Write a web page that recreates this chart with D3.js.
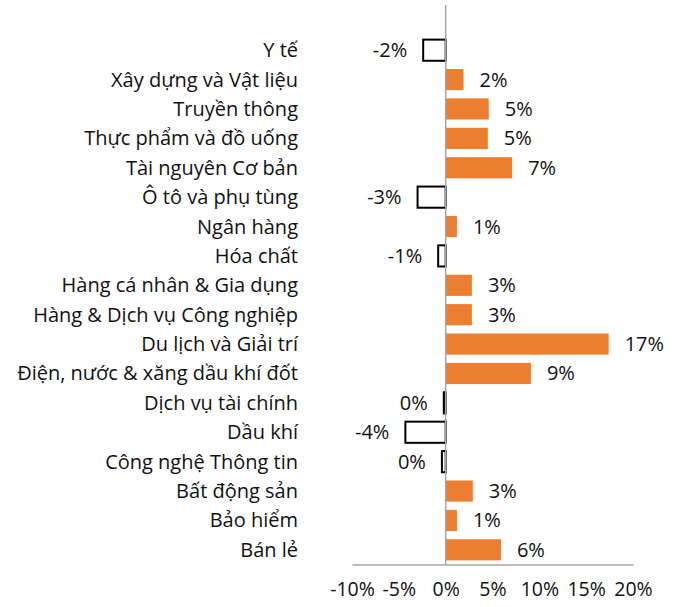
<!DOCTYPE html>
<html>
<head>
<meta charset="utf-8">
<script src="https://cdn.jsdelivr.net/npm/d3@7"></script>
<style>
  body { margin: 0; background: #fff; }
  text { font-family: "Open Sans", sans-serif; fill: #111; }
</style>
</head>
<body>
<script>
// sectors, top to bottom
var sectors = ["Y tế", "Xây dựng và Vật liệu", "Truyền thông", "Thực phẩm và đồ uống",
  "Tài nguyên Cơ bản", "Ô tô và phụ tùng", "Ngân hàng", "Hóa chất",
  "Hàng cá nhân & Gia dụng", "Hàng & Dịch vụ Công nghiệp", "Du lịch và Giải trí",
  "Điện, nước & xăng dầu khí đốt", "Dịch vụ tài chính", "Dầu khí",
  "Công nghệ Thông tin", "Bất động sản", "Bảo hiểm", "Bán lẻ"];
// change in %
var changes = [-2.4, 1.9, 4.6, 4.5, 7.1, -3.0, 1.2, -0.8, 2.8, 2.8, 17.4, 9.1,
  -0.2, -4.3, -0.4, 2.9, 1.2, 5.9];
var xTicks = [-10, -5, 0, 5, 10, 15, 20];

var width = 684, height = 607;
var fontSize = 20;
var svg = d3.select("body").append("svg")
  .attr("width", width).attr("height", height);

var x = d3.scaleLinear().domain([-10, 20]).range([352, 633]);
var y = d3.scaleBand().domain(sectors).range([35.5, 564.5]).paddingInner(0.28).paddingOuter(0.14);

var fmt = function(v) { return Math.round(v) + "%"; };

// bars
svg.selectAll("rect.bar")
  .data(sectors)
  .enter().append("rect")
  .attr("class", "bar")
  .attr("x", function(d, i) { return changes[i] < 0 ? x(changes[i]) : x(0); })
  .attr("y", function(d) { return y(d); })
  .attr("width", function(d, i) { return Math.abs(x(changes[i]) - x(0)); })
  .attr("height", y.bandwidth())
  .attr("fill", function(d, i) { return changes[i] < 0 ? "#fff" : "#ED7D31"; })
  .attr("stroke", function(d, i) { return changes[i] < 0 ? "#000" : "none"; })
  .attr("stroke-width", 2);

// zero line
svg.append("line")
  .attr("x1", x(0)).attr("x2", x(0))
  .attr("y1", 5).attr("y2", 564.5)
  .attr("stroke", "#a6a6a6").attr("stroke-width", 1.5);

// x axis
var xAxis = svg.append("g")
  .attr("transform", "translate(0,564.5)")
  .call(d3.axisBottom(x).tickValues(xTicks).tickSize(0).tickPadding(18)
    .tickFormat(function(d) { return d + "%"; }));
xAxis.select(".domain").attr("stroke", "#a6a6a6").attr("stroke-width", 1.5);
xAxis.selectAll("text").attr("font-size", 19.5).attr("font-family", "Open Sans").attr("fill", "#111");

// category labels
svg.selectAll("text.cat")
  .data(sectors)
  .enter().append("text")
  .attr("class", "cat")
  .attr("x", 298)
  .attr("y", function(d) { return y(d) + y.bandwidth() / 2; })
  .attr("dy", "0.35em")
  .attr("text-anchor", "end")
  .attr("font-size", fontSize)
  .text(function(d) { return d; });

// value labels
svg.selectAll("text.val")
  .data(sectors)
  .enter().append("text")
  .attr("class", "val")
  .attr("x", function(d, i) {
    return changes[i] < 0 ? x(changes[i]) - 16 : x(changes[i]) + 16;
  })
  .attr("y", function(d) { return y(d) + y.bandwidth() / 2; })
  .attr("dy", "0.35em")
  .attr("text-anchor", function(d, i) { return changes[i] < 0 ? "end" : "start"; })
  .attr("font-size", fontSize)
  .text(function(d, i) { return fmt(changes[i]); });
</script>
</body>
</html>
